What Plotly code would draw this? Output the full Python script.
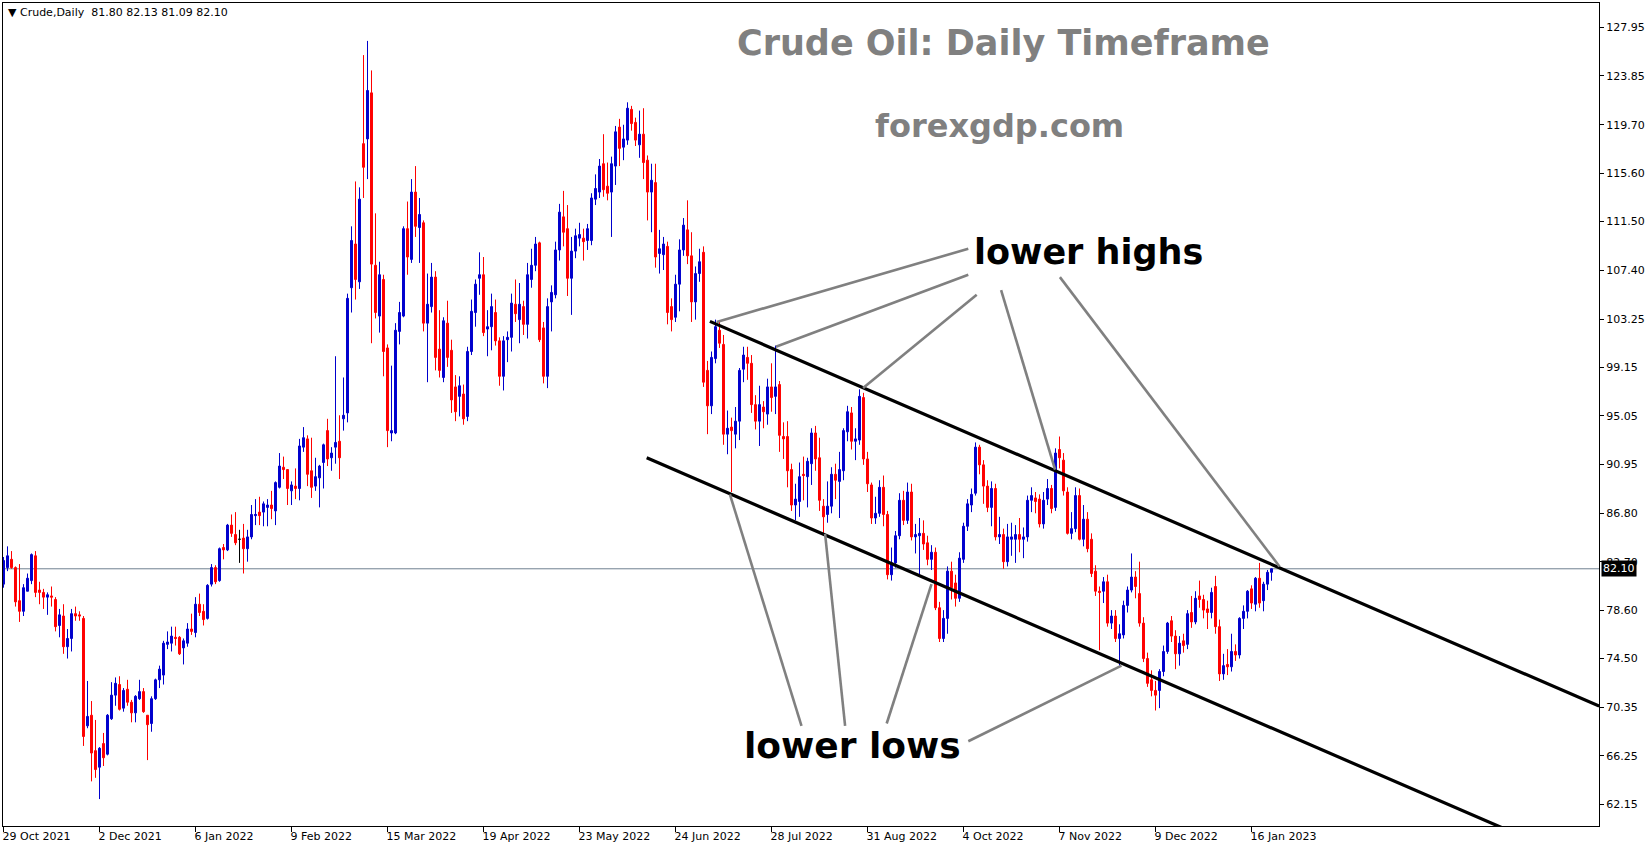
import plotly.graph_objects as go

# ---------------- data ----------------
opens = [80.8, 82.2, 82.9, 82.2, 79.4, 78.5, 80.2, 81.1, 83.2, 80.3, 80.1, 79.7, 79.8, 79.5, 77.3, 78.1, 75.5, 76.2, 78.3, 78.2,
         77.9, 68.8, 69.7, 66.7, 65.3, 67.3, 66.4, 69.4, 71.4, 72.3, 70.3, 71.9, 70.8, 69.9, 71.1, 71.7, 69.7, 69.0, 71.1, 72.7,
         73.1, 75.7, 75.8, 76.3, 76.3, 75.4, 75.8, 77.0, 76.7, 79.1, 78.5, 77.9, 80.8, 82.2, 81.1, 83.9, 83.7, 85.8, 85.0, 84.6,
         84.7, 83.8, 84.8, 86.6, 86.9, 86.9, 87.3, 87.5, 87.0, 89.0, 90.7, 90.5, 88.7, 89.1, 88.9, 92.4, 93.1, 90.4, 89.1, 89.8,
         91.1, 93.8, 91.5, 92.4, 92.9, 94.8, 95.3, 105.9, 109.6, 106.4, 118.1, 118.5, 122.4, 107.8, 103.5, 106.6, 100.8, 93.6, 93.6, 102.2,
         103.5, 110.9, 108.3, 114.0, 111.0, 111.4, 102.9, 104.3, 106.8, 100.7, 98.3, 102.9, 100.6, 97.5, 96.7, 96.9, 95.0, 100.5, 103.8, 106.7,
         107.0, 102.4, 102.6, 103.8, 101.4, 98.4, 101.5, 101.7, 104.5, 103.2, 104.3, 102.8, 106.6, 107.8, 109.7, 102.5, 98.4, 104.7, 105.3, 109.1,
         111.9, 110.9, 106.7, 109.0, 110.1, 110.1, 109.9, 109.9, 113.4, 114.0, 116.4, 114.5, 114.0, 116.2, 119.5, 117.8, 118.4, 121.0, 119.9, 118.0,
         118.9, 116.7, 114.0, 114.8, 108.8, 108.7, 109.4, 104.3, 103.4, 106.2, 109.1, 110.8, 108.6, 104.7, 107.1, 108.9, 98.9, 95.9, 99.9, 102.3,
         101.1, 93.5, 94.1, 93.5, 94.6, 99.0, 100.0, 99.5, 96.0, 94.6, 95.8, 95.2, 97.5, 96.7, 97.7, 93.3, 93.3, 90.5, 87.5, 87.8,
         90.1, 89.9, 91.0, 93.6, 91.5, 87.4, 86.7, 87.4, 90.1, 89.5, 90.4, 93.7, 95.3, 92.9, 93.0, 96.6, 91.4, 89.2, 86.4, 86.8,
         89.0, 86.7, 81.6, 82.6, 84.9, 87.9, 86.2, 88.6, 84.8, 84.9, 85.1, 84.3, 82.9, 83.5, 78.8, 76.2, 77.9, 81.9, 80.9, 79.6,
         82.9, 85.7, 87.5, 88.5, 92.4, 90.9, 89.1, 87.3, 88.9, 84.8, 85.0, 82.7, 84.6, 84.6, 85.0, 84.6, 84.8, 87.9, 88.1, 88.0,
         85.9, 88.0, 88.9, 87.3, 92.2, 91.3, 88.6, 85.1, 85.5, 88.3, 84.6, 86.3, 84.6, 81.9, 80.2, 80.2, 81.0, 77.5, 78.1, 76.2,
         76.5, 79.0, 80.3, 81.4, 80.0, 77.5, 74.5, 72.7, 71.8, 71.8, 73.4, 75.1, 77.7, 76.4, 74.9, 76.0, 75.7, 78.4, 77.6, 79.8,
         79.5, 78.7, 78.4, 80.6, 77.2, 73.2, 74.0, 73.8, 75.1, 74.8, 77.9, 78.5, 80.4, 79.1, 81.3, 79.4, 80.8, 81.80]
highs = [83.1, 84.0, 83.6, 82.3, 82.5, 80.8, 81.7, 83.4, 83.6, 81.0, 80.4, 80.1, 80.6, 79.7, 78.7, 79.1, 77.0, 78.7, 78.9, 78.5,
         78.1, 72.6, 70.9, 69.3, 67.0, 68.2, 69.8, 72.5, 72.9, 73.0, 72.0, 72.7, 71.0, 71.4, 72.7, 72.0, 69.7, 71.3, 72.8, 73.9,
         76.0, 76.8, 77.2, 77.2, 76.4, 76.2, 77.5, 78.3, 79.7, 80.0, 79.1, 80.8, 82.5, 82.4, 83.9, 84.2, 85.9, 86.7, 86.9, 85.4,
         85.9, 85.4, 87.5, 88.0, 88.2, 87.8, 88.0, 88.7, 89.5, 91.9, 91.6, 90.5, 89.5, 90.6, 93.1, 94.1, 93.4, 93.2, 91.5, 90.9,
         92.7, 94.8, 92.4, 100.1, 95.1, 98.3, 105.4, 111.1, 114.9, 114.4, 125.6, 126.8, 124.3, 112.2, 108.1, 107.0, 101.1, 99.3, 102.9, 104.7,
         111.1, 113.2, 115.1, 116.2, 113.5, 111.6, 107.1, 108.0, 107.3, 104.0, 103.4, 104.8, 101.5, 98.5, 98.4, 97.7, 100.9, 104.9, 106.6, 108.9,
         108.5, 104.0, 105.4, 104.9, 101.7, 101.8, 102.2, 105.4, 106.6, 106.3, 104.8, 108.0, 109.2, 110.2, 109.8, 103.0, 105.0, 106.1, 109.8, 113.0,
         114.1, 112.9, 110.2, 110.9, 111.4, 110.9, 111.3, 113.9, 115.5, 116.8, 118.9, 116.5, 117.0, 119.6, 120.2, 119.7, 121.6, 121.3, 120.3, 120.9,
         121.1, 117.1, 116.4, 116.4, 110.8, 110.2, 109.8, 105.0, 107.0, 110.0, 111.8, 113.3, 110.6, 107.7, 109.2, 109.4, 99.7, 100.5, 103.2, 103.1,
         101.9, 95.5, 94.9, 95.8, 99.1, 100.9, 100.9, 100.2, 96.8, 97.6, 96.3, 98.2, 99.5, 101.0, 98.0, 94.5, 94.6, 91.0, 89.3, 91.1,
         91.6, 91.5, 94.0, 94.2, 93.2, 88.0, 89.5, 90.7, 91.0, 92.0, 94.0, 95.9, 95.8, 94.0, 97.3, 97.0, 92.0, 89.4, 88.2, 89.6,
         90.0, 87.0, 83.9, 85.3, 88.5, 88.7, 89.4, 89.3, 85.9, 86.4, 86.2, 84.9, 84.1, 83.9, 79.3, 78.6, 82.3, 82.7, 81.6, 83.5,
         86.0, 88.0, 88.9, 92.8, 92.6, 91.3, 89.6, 89.5, 89.3, 86.5, 85.5, 85.9, 86.0, 85.8, 86.4, 85.6, 88.3, 89.0, 88.6, 88.4,
         88.6, 89.7, 89.2, 92.3, 93.3, 91.9, 89.0, 86.9, 89.0, 88.9, 87.5, 86.9, 85.1, 82.4, 80.6, 81.4, 81.6, 78.6, 78.6, 77.4,
         79.4, 80.6, 83.4, 81.9, 82.7, 78.0, 75.0, 73.5, 72.6, 73.6, 75.6, 77.6, 78.1, 76.9, 76.4, 76.6, 78.6, 79.8, 80.2, 81.1,
         79.9, 79.4, 80.5, 81.5, 77.8, 74.9, 75.3, 76.6, 75.7, 78.0, 79.0, 80.3, 80.7, 81.4, 82.6, 81.0, 82.0, 82.13]
lows = [80.5, 81.9, 82.1, 78.9, 77.6, 78.1, 80.2, 80.8, 79.7, 79.1, 78.7, 78.2, 78.9, 76.8, 76.3, 74.9, 74.5, 75.1, 77.7, 77.7,
        67.1, 68.6, 64.1, 64.4, 62.6, 65.4, 66.3, 69.3, 70.5, 70.1, 70.0, 70.5, 69.1, 69.1, 71.0, 69.9, 65.9, 68.3, 71.0, 72.0,
        72.3, 75.3, 75.1, 75.6, 74.8, 74.0, 75.5, 76.5, 76.3, 78.1, 77.3, 77.8, 80.6, 80.8, 81.0, 82.9, 83.6, 84.8, 84.1, 82.6,
        81.7, 82.7, 84.6, 85.8, 85.8, 85.7, 85.7, 86.3, 85.8, 88.9, 89.7, 87.5, 87.5, 88.0, 87.9, 92.0, 89.1, 88.1, 88.7, 87.3,
        88.9, 90.8, 90.4, 91.0, 89.7, 93.8, 94.5, 103.8, 104.9, 105.8, 113.5, 115.1, 101.2, 103.3, 102.1, 98.4, 92.4, 92.9, 93.5, 101.1,
        103.4, 107.0, 108.0, 110.2, 108.0, 102.2, 97.9, 103.8, 98.9, 98.3, 97.9, 99.2, 95.3, 94.6, 95.0, 94.3, 94.6, 100.2, 102.6, 105.3,
        101.8, 100.1, 100.6, 101.0, 97.6, 97.2, 99.6, 100.5, 103.0, 101.2, 101.9, 101.6, 105.9, 107.3, 101.3, 97.8, 97.4, 102.2, 105.0, 108.2,
        109.4, 105.2, 103.6, 108.4, 109.4, 108.2, 109.1, 109.5, 112.9, 113.5, 113.6, 113.3, 110.2, 114.6, 116.2, 116.7, 118.0, 119.2, 117.9, 116.9,
        115.1, 111.6, 110.6, 107.6, 107.1, 107.4, 102.8, 102.2, 103.0, 103.9, 108.6, 107.9, 103.0, 103.2, 106.4, 97.5, 93.5, 95.2, 99.5, 100.8,
        92.6, 91.8, 88.6, 92.3, 93.0, 97.9, 98.1, 95.3, 93.9, 92.5, 94.0, 94.3, 95.4, 95.2, 92.0, 91.4, 89.0, 87.0, 86.2, 86.5,
        87.9, 87.3, 89.2, 90.4, 87.0, 85.1, 86.0, 86.8, 88.0, 86.4, 89.6, 92.9, 92.2, 91.3, 92.6, 90.9, 88.6, 85.9, 85.9, 86.5,
        85.7, 81.2, 81.1, 82.2, 84.6, 85.8, 85.9, 84.5, 83.4, 81.6, 83.7, 82.4, 82.0, 78.6, 75.9, 75.9, 76.6, 79.5, 78.9, 79.3,
        82.6, 85.3, 86.9, 88.3, 90.1, 87.6, 86.9, 85.7, 84.5, 84.2, 82.1, 82.3, 83.2, 82.6, 83.5, 83.0, 84.4, 86.9, 86.8, 85.6,
        85.5, 87.5, 86.8, 87.0, 90.6, 88.3, 85.0, 84.6, 85.2, 84.5, 84.0, 83.5, 81.4, 79.8, 75.2, 79.2, 77.2, 77.0, 75.9, 73.9,
        76.2, 78.4, 80.1, 79.6, 77.2, 74.2, 72.1, 71.3, 70.1, 70.3, 73.0, 74.9, 75.9, 73.6, 73.9, 75.0, 75.3, 77.1, 77.4, 78.8,
        77.9, 77.0, 77.9, 76.6, 72.6, 72.7, 73.1, 73.4, 74.3, 74.5, 77.0, 77.9, 78.7, 78.5, 78.8, 78.5, 80.3, 81.09]
closes = [82.8, 83.2, 82.2, 79.3, 78.5, 80.5, 81.3, 83.3, 80.1, 80.1, 79.7, 79.9, 79.7, 77.2, 78.2, 75.5, 76.2, 78.3, 78.1, 78.1,
          67.9, 69.6, 66.5, 65.1, 66.9, 66.1, 69.7, 71.4, 72.4, 70.2, 71.8, 70.8, 69.9, 71.3, 71.7, 70.0, 68.9, 71.1, 72.7, 73.6,
          75.8, 75.9, 76.4, 76.2, 74.9, 76.0, 77.0, 76.8, 79.1, 78.4, 77.8, 80.7, 82.2, 81.0, 83.8, 83.7, 85.8, 85.1, 84.3, 84.6,
          83.8, 84.8, 86.7, 86.7, 86.6, 87.6, 87.5, 87.2, 89.4, 90.8, 90.5, 88.9, 89.2, 88.9, 92.5, 93.2, 90.1, 89.0, 89.9, 90.8,
          92.6, 91.4, 91.9, 92.8, 91.5, 95.1, 105.0, 109.9, 106.6, 113.4, 116.1, 122.6, 107.9, 103.8, 107.0, 100.5, 93.8, 93.8, 102.3, 103.8,
          110.9, 108.5, 114.0, 111.1, 112.1, 102.9, 104.5, 106.8, 100.0, 98.9, 103.1, 100.0, 96.4, 95.4, 97.6, 94.8, 100.5, 103.9, 106.2, 107.0,
          102.1, 102.6, 104.3, 101.4, 98.4, 101.4, 101.7, 104.6, 103.7, 104.5, 102.8, 107.0, 107.8, 109.6, 101.5, 98.4, 104.3, 105.5, 109.1, 112.3,
          110.6, 106.7, 109.0, 110.3, 110.4, 109.8, 110.9, 113.5, 114.3, 116.2, 114.2, 113.9, 116.4, 119.1, 117.7, 118.5, 121.1, 119.8, 118.4, 118.9,
          116.5, 114.0, 115.0, 108.5, 109.2, 109.6, 103.8, 103.2, 106.2, 109.1, 111.2, 108.6, 104.7, 107.1, 108.1, 97.9, 95.9, 100.0, 102.6, 101.2,
          93.5, 94.0, 93.8, 94.6, 98.9, 100.2, 99.5, 96.0, 94.6, 96.0, 95.4, 97.5, 96.6, 97.5, 93.4, 93.1, 90.4, 87.5, 88.0, 89.9,
          90.0, 91.2, 93.6, 91.4, 87.9, 86.5, 87.4, 90.1, 89.6, 90.5, 93.8, 95.4, 92.9, 93.1, 96.7, 91.4, 89.3, 86.4, 86.8, 89.0,
          86.7, 81.6, 82.6, 84.9, 87.9, 86.2, 88.6, 84.8, 85.0, 85.1, 84.2, 82.9, 83.5, 78.8, 76.2, 77.9, 81.9, 80.5, 79.6, 83.0,
          85.7, 87.6, 88.4, 92.4, 90.9, 89.1, 87.3, 88.9, 84.8, 85.0, 82.7, 84.8, 84.8, 85.0, 84.6, 84.8, 87.9, 88.3, 87.8, 85.9,
          87.9, 88.9, 87.2, 91.9, 91.5, 88.7, 85.1, 85.5, 88.3, 84.6, 86.3, 83.8, 81.7, 80.2, 80.1, 81.0, 77.5, 78.1, 76.2, 76.6,
          79.0, 80.3, 81.4, 80.6, 77.5, 74.5, 72.4, 71.8, 71.4, 73.4, 75.1, 77.5, 76.4, 74.9, 75.8, 75.6, 78.3, 77.6, 79.6, 79.5,
          78.6, 78.4, 80.1, 77.2, 73.2, 73.9, 73.8, 75.1, 74.8, 77.9, 78.5, 80.2, 79.2, 81.3, 79.2, 80.8, 81.8, 82.10]

price_ticks = [127.95, 123.85, 119.70, 115.60, 111.50, 107.40, 103.25, 99.15, 95.05,
               90.95, 86.80, 82.70, 78.60, 74.50, 70.35, 66.25, 62.15]
date_labels = ["29 Oct 2021", "2 Dec 2021", "6 Jan 2022", "9 Feb 2022", "15 Mar 2022",
               "19 Apr 2022", "23 May 2022", "24 Jun 2022", "28 Jul 2022", "31 Aug 2022",
               "4 Oct 2022", "7 Nov 2022", "9 Dec 2022", "16 Jan 2023"]
date_label_bars = [0, 24, 48, 72, 96, 120, 144, 168, 192, 216, 240, 264, 288, 312]

# channel lines and pointer lines (bar index, price)
channel_upper = [(176.6, 103.05), (398.9, 70.48)]
channel_lower = [(160.8, 91.5), (398.9, 56.62)]
high_pointers = [[(241.2, 109.2), (178.3, 103.0)],
                 [(241.2, 107.0), (193.1, 100.9)],
                 [(243.3, 105.3), (214.9, 97.4)],
                 [(249.4, 105.7), (262.9, 90.5)],
                 [(264.1, 106.8), (319.0, 82.3)]]
low_pointers = [[(199.5, 68.8), (181.6, 88.4)],
                [(210.4, 68.8), (205.4, 85.05)],
                [(220.8, 69.0), (232.0, 80.8)],
                [(241.2, 67.5), (279.5, 73.9)]]

# ---------------- figure ----------------
n = len(closes)
UP, DOWN, DOJI = "#0000CD", "#FF0000", "#000000"
fig = go.Figure()


def candles(idx, color):
    return go.Candlestick(
        x=idx,
        open=[opens[i] for i in idx], high=[highs[i] for i in idx],
        low=[lows[i] for i in idx], close=[closes[i] for i in idx],
        increasing=dict(line=dict(color=color, width=1), fillcolor=color),
        decreasing=dict(line=dict(color=color, width=1), fillcolor=color),
        whiskerwidth=0, showlegend=False, hoverinfo="skip")


fig.add_trace(candles([i for i in range(n) if closes[i] > opens[i]], UP))
fig.add_trace(candles([i for i in range(n) if closes[i] < opens[i]], DOWN))
fig.add_trace(candles([i for i in range(n) if closes[i] == opens[i]], DOJI))

for line in (channel_upper, channel_lower):
    fig.add_trace(go.Scatter(x=[p[0] for p in line], y=[p[1] for p in line], mode="lines",
                             line=dict(color="black", width=3.2), showlegend=False, hoverinfo="skip"))
for seg in high_pointers + low_pointers:
    fig.add_trace(go.Scatter(x=[p[0] for p in seg], y=[p[1] for p in seg], mode="lines",
                             line=dict(color="#808080", width=2.6), showlegend=False, hoverinfo="skip"))

# last price line
fig.add_shape(type="line", xref="paper", x0=0, x1=1, yref="y", y0=closes[-1], y1=closes[-1],
              line=dict(color="#708090", width=1), layer="below")

FONT = "DejaVu Sans"
ann = []
ann.append(dict(xref="paper", yref="y", x=1, y=closes[-1], xanchor="left", yanchor="middle",
                xshift=2, text=f"{closes[-1]:.2f}", showarrow=False, bgcolor="black",
                font=dict(family=FONT, size=11, color="white"), borderpad=1))
ann.append(dict(xref="paper", yref="paper", x=0.002, y=0.988, xanchor="left", yanchor="middle",
                text=f"\u25BC Crude,Daily  {opens[-1]:.2f} {highs[-1]:.2f} {lows[-1]:.2f} {closes[-1]:.2f}",
                showarrow=False, font=dict(family=FONT, size=11, color="black")))
ann.append(dict(xref="paper", yref="paper", x=0.6266, y=0.952, xanchor="center", yanchor="middle",
                text="<b>Crude Oil: Daily Timeframe</b>", showarrow=False,
                font=dict(family=FONT, size=35, color="#808080")))
ann.append(dict(xref="paper", yref="paper", x=0.6241, y=0.850, xanchor="center", yanchor="middle",
                text="<b>forexgdp.com</b>", showarrow=False,
                font=dict(family=FONT, size=32, color="#808080")))
ann.append(dict(xref="paper", yref="paper", x=0.6801, y=0.697, xanchor="center", yanchor="middle",
                text="<b>lower highs</b>", showarrow=False,
                font=dict(family=FONT, size=35, color="black")))
ann.append(dict(xref="paper", yref="paper", x=0.532, y=0.098, xanchor="center", yanchor="middle",
                text="<b>lower lows</b>", showarrow=False,
                font=dict(family=FONT, size=36, color="black")))

fig.update_layout(
    width=1649, height=850, autosize=False,
    margin=dict(l=3, r=50, t=3, b=24),
    paper_bgcolor="white", plot_bgcolor="white",
    font=dict(family=FONT, size=11, color="black"),
    showlegend=False,
    annotations=ann,
    xaxis=dict(range=[-0.125, 398.875], showgrid=False, zeroline=False,
               tickmode="array", tickvals=date_label_bars, ticktext=date_labels,
               ticks="outside", ticklen=5, tickcolor="black", tickwidth=1,
               ticklabelposition="outside right", ticklabelshift=-2,
               showline=True, linecolor="black", linewidth=1, mirror=True,
               rangeslider=dict(visible=False), fixedrange=True),
    yaxis=dict(range=[60.32, 130.01], side="right", showgrid=False, zeroline=False,
               tickmode="array", tickvals=price_ticks, ticktext=[f"{v:.2f}" for v in price_ticks],
               ticks="outside", ticklen=4, tickcolor="black", tickwidth=1,
               showline=True, linecolor="black", linewidth=1, mirror=True, fixedrange=True),
)

fig.write_html("out.html", config={"displayModeBar": False},
               post_script="document.body.style.margin='0px';")
